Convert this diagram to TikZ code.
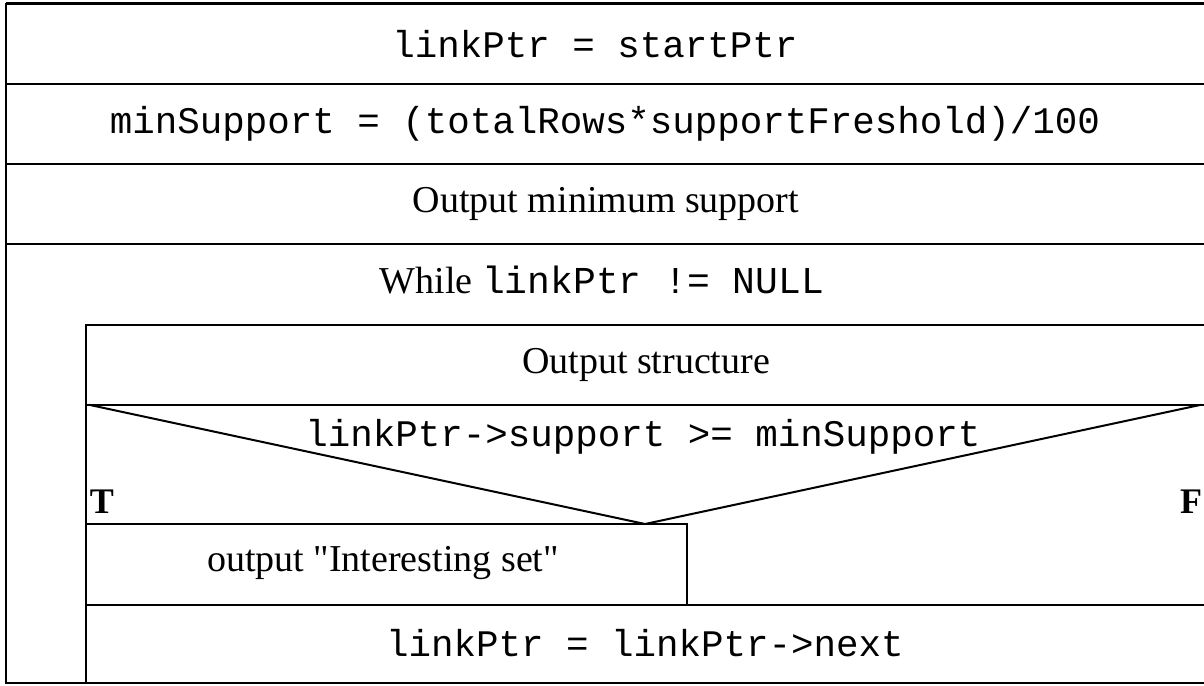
\documentclass[tikz,border=0pt]{standalone}
\usepackage{fontspec}
\setmainfont{Liberation Serif}
\setmonofont{Liberation Mono}
\newfontfamily\qfont{Liberation Serif}[Ligatures=ResetAll]
\newcommand{\sq}{{\qfont\symbol{34}}}
\begin{document}
\begin{tikzpicture}[x=1pt,y=-1pt,
  ln/.style={line width=2pt,line cap=rect},
  code/.style={font=\fontsize{37.5}{40}\selectfont\ttfamily,inner sep=0pt},
  txt/.style={font=\fontsize{38}{40}\selectfont,inner sep=0pt},
  lbl/.style={font=\fontsize{36}{40}\selectfont\bfseries,inner sep=0pt}]
\useasboundingbox (0,0) rectangle (1204,685);
% outer frame and rows
\draw[line width=3pt] (6,4) -- (1204,4);
\draw[ln] (6,4) -- (6,683) -- (1204,683);
\draw[ln] (6,84) -- (1204,84);
\draw[ln] (6,164) -- (1204,164);
\draw[ln] (6,244) -- (1204,244);
% loop body
\draw[ln] (86,683) -- (86,325) -- (1204,325);
\draw[ln] (86,405) -- (1204,405);
\coordinate (vl) at (90,405);
\coordinate (vb) at (645,524);
\coordinate (vr) at (1200,405);
\draw[ln] (vl) -- (vb) -- (vr);
\draw[ln] (86,524) -- (687,524) -- (687,605);
\draw[ln] (86,605) -- (1204,605);
% texts
\node[code] (s1) at (595,44) {linkPtr = startPtr};
\node[code] (s2) at (605,124) {minSupport = (totalRows*supportFreshold)/100};
\node[txt] (s3) at (606,204) {Output minimum support};
\node[txt] (w) at (602,280) {While \texttt{linkPtr != NULL}};
\node[txt] (s4) at (646,365) {Output structure};
\node[code] (c) at (643,437) {linkPtr->support >= minSupport};
\node[lbl] (t) at (102,502) {T};
\node[lbl] (f) at (1191,502) {F};
\node[txt] (s5) at (383,563) {output \sq Interesting set\sq};
\node[code] (s6) at (645,643) {linkPtr = linkPtr->next};
\end{tikzpicture}
\end{document}
